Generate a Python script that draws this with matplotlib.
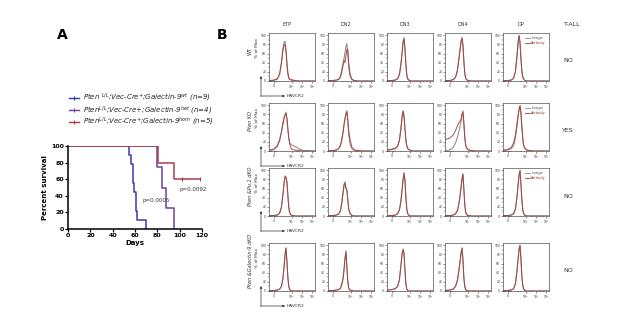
import matplotlib
matplotlib.use("Agg")
import matplotlib.pyplot as plt
from matplotlib.lines import Line2D

# ---- panel A: survival data ----
wt_days = [0, 55, 56, 58, 59, 61, 62, 70]
wt_surv = [100, 88.9, 77.8, 55.6, 44.4, 22.2, 11.1, 0]
het_days = [0, 80, 84, 88, 95]
het_surv = [100, 75, 50, 25, 0]
hom_days = [0, 81, 95, 118]
hom_surv = [100, 80, 60, 60]
hom_censor_days = [102, 118]
hom_censor_surv = [60, 60]

group_labels = [
    r"$Pten$ $^{L/L}$;Vec-Cre$^{+}$;Galectin-9$^{wt}$ (n=9)",
    r"$Pten$$^{L/L}$;Vec-Cre+;Galectin-9$^{het}$ (n=4)",
    r"$Pten$$^{L/L}$;Vec-Cre$^{+}$;Galectin-9$^{hom}$ (n=5)",
]
group_colors = ["#3a3aa6", "#68459c", "#a8404a"]

# ---- panel B: flow histograms (channel vs % of max) ----
populations = ["ETP", "DN2", "DN3", "DN4", "DP"]
genotypes = ["WT", "Pten KO", "Pten &Pu.1 dKO", "Pten &Galectin-9 dKO"]
t_all = ["NO", "YES", "NO", "NO"]
channels = [0, 100, 180, 230, 270, 300, 330, 350, 370, 390, 410, 430, 450, 480, 520, 570, 650, 750, 1000]
tick_pos = [100, 490, 720, 940]
tick_lab = ["0", r"$10^3$", r"$10^4$", r"$10^5$"]

wt_iso = [
    [1, 1, 4, 14, 40, 70, 85, 87, 65, 35, 15, 6, 3, 2, 1, 0, 0, 0, 0],
    [1, 1, 2, 4, 10, 25, 40, 50, 62, 75, 82, 60, 30, 10, 3, 1, 0, 0, 0],
    [1, 1, 2, 5, 15, 35, 65, 88, 95, 70, 35, 12, 4, 1, 0, 0, 0, 0, 0],
    [1, 1, 3, 8, 22, 45, 70, 85, 93, 80, 45, 18, 6, 2, 1, 0, 0, 0, 0],
    [1, 1, 2, 6, 20, 50, 85, 100, 85, 50, 22, 9, 4, 1, 0, 0, 0, 0, 0],
]
wt_ab = [
    [1, 2, 5, 15, 38, 65, 80, 78, 68, 40, 18, 8, 4, 3, 2, 1, 0, 0, 0],
    [1, 1, 2, 3, 8, 20, 35, 45, 40, 55, 68, 70, 40, 15, 4, 1, 0, 0, 0],
    [1, 1, 2, 5, 14, 33, 62, 85, 92, 72, 38, 14, 5, 2, 0, 0, 0, 0, 0],
    [1, 1, 3, 9, 24, 48, 72, 88, 95, 78, 42, 16, 5, 2, 1, 0, 0, 0, 0],
    [1, 1, 2, 6, 21, 51, 86, 99, 84, 49, 21, 9, 4, 1, 0, 0, 0, 0, 0],
]
ko_iso = [
    [2, 4, 12, 25, 42, 60, 75, 80, 85, 70, 45, 28, 18, 14, 12, 10, 5, 1, 0],
    [1, 1, 2, 5, 12, 25, 45, 60, 72, 82, 88, 65, 35, 15, 5, 2, 1, 0, 0],
    [1, 3, 5, 10, 22, 45, 75, 88, 78, 50, 25, 12, 6, 3, 1, 0, 0, 0, 0],
    [0, 2, 8, 18, 30, 42, 55, 65, 78, 88, 62, 30, 12, 5, 2, 1, 0, 0, 0],
    [1, 2, 5, 12, 28, 50, 75, 90, 100, 85, 55, 28, 12, 5, 2, 1, 0, 0, 0],
]
ko_ab = [
    [1, 3, 10, 22, 40, 58, 72, 78, 82, 72, 50, 30, 15, 6, 3, 2, 1, 0, 0],
    [1, 1, 2, 5, 12, 24, 42, 58, 70, 80, 86, 70, 45, 25, 8, 2, 1, 0, 0],
    [2, 4, 6, 11, 24, 48, 77, 87, 76, 48, 24, 11, 5, 3, 1, 0, 0, 0, 0],
    [25, 28, 35, 45, 55, 62, 65, 70, 80, 85, 60, 30, 12, 5, 2, 1, 0, 0, 0],
    [2, 3, 8, 18, 35, 58, 80, 93, 98, 82, 52, 26, 11, 5, 2, 1, 0, 0, 0],
]
pu_iso = [
    [1, 1, 2, 6, 20, 45, 75, 88, 85, 75, 45, 18, 6, 2, 1, 0, 0, 0, 0],
    [1, 1, 2, 4, 12, 30, 55, 70, 75, 62, 58, 35, 15, 5, 1, 0, 0, 0, 0],
    [1, 1, 2, 5, 14, 32, 60, 82, 95, 78, 40, 15, 5, 1, 0, 0, 0, 0, 0],
    [1, 1, 2, 5, 12, 25, 45, 62, 80, 93, 60, 25, 8, 2, 1, 0, 0, 0, 0],
    [1, 1, 2, 5, 15, 38, 70, 90, 100, 70, 35, 14, 5, 1, 0, 0, 0, 0, 0],
]
pu_ab = [
    [1, 1, 2, 6, 19, 44, 73, 86, 84, 74, 46, 19, 7, 2, 1, 0, 0, 0, 0],
    [1, 1, 2, 4, 11, 28, 52, 68, 72, 60, 57, 36, 16, 5, 1, 0, 0, 0, 0],
    [1, 1, 2, 5, 13, 30, 58, 80, 93, 80, 42, 16, 5, 1, 0, 0, 0, 0, 0],
    [1, 1, 2, 5, 12, 26, 46, 64, 82, 91, 58, 24, 8, 2, 1, 0, 0, 0, 0],
    [1, 1, 2, 5, 15, 38, 70, 90, 99, 70, 35, 14, 5, 1, 0, 0, 0, 0, 0],
]
gal_iso = [
    [1, 1, 2, 4, 10, 25, 55, 80, 95, 65, 30, 10, 3, 1, 0, 0, 0, 0, 0],
    [1, 1, 2, 3, 6, 15, 30, 50, 70, 88, 55, 20, 6, 2, 1, 0, 0, 0, 0],
    [2, 3, 5, 10, 25, 55, 85, 92, 80, 45, 15, 4, 1, 0, 0, 0, 0, 0, 0],
    [1, 2, 4, 10, 22, 42, 65, 82, 95, 70, 30, 10, 3, 1, 0, 0, 0, 0, 0],
    [1, 1, 2, 5, 16, 40, 72, 92, 100, 70, 32, 12, 4, 1, 0, 0, 0, 0, 0],
]
gal_ab = [
    [1, 1, 2, 4, 10, 26, 56, 82, 93, 64, 29, 10, 3, 1, 0, 0, 0, 0, 0],
    [1, 1, 2, 3, 6, 14, 28, 48, 72, 85, 52, 22, 7, 2, 1, 0, 0, 0, 0],
    [2, 3, 5, 10, 24, 52, 82, 90, 85, 48, 16, 4, 1, 0, 0, 0, 0, 0, 0],
    [1, 2, 4, 11, 24, 45, 68, 85, 93, 68, 28, 9, 3, 1, 0, 0, 0, 0, 0],
    [1, 1, 2, 5, 16, 40, 72, 92, 100, 70, 32, 12, 4, 1, 0, 0, 0, 0, 0],
]
iso_rows = [wt_iso, ko_iso, pu_iso, gal_iso]
ab_rows = [wt_ab, ko_ab, pu_ab, gal_ab]

ISO_COLOR = "#8a8a8a"
AB_COLOR = "#a33b3b"

W, H = 617, 315
fig = plt.figure(figsize=(W / 100, H / 100), dpi=100)


def box(x, y, w, h):
    return [x / W, 1 - (y + h) / H, w / W, h / H]


# overlay in pixel coordinates for labels and arrows
over = fig.add_axes([0, 0, 1, 1])
over.set_xlim(0, W)
over.set_ylim(H, 0)
over.axis("off")

over.text(62, 35, "A", fontsize=10, fontweight="bold", ha="center", va="center")
over.text(222, 35, "B", fontsize=10, fontweight="bold", ha="center", va="center")

# ---- panel A ----
ax = fig.add_axes(box(68, 146, 134, 83))
ax.step(wt_days, wt_surv, where="post", color=group_colors[0], lw=1.1)
ax.step(het_days, het_surv, where="post", color=group_colors[1], lw=1.1)
ax.step(hom_days, hom_surv, where="post", color=group_colors[2], lw=1.1)
ax.plot(hom_censor_days, hom_censor_surv, ls="none", marker="|", ms=3,
        color=group_colors[2], mew=0.8)
ax.set_xlim(0, 120)
ax.set_ylim(0, 100)
ax.set_xticks(range(0, 121, 20))
ax.set_yticks(range(0, 101, 20))
for s in ["top", "right"]:
    ax.spines[s].set_visible(False)
for s in ["left", "bottom"]:
    ax.spines[s].set_linewidth(1.1)
ax.tick_params(labelsize=4.5, width=0.9, length=2, pad=1)
for t in ax.get_xticklabels() + ax.get_yticklabels():
    t.set_fontweight("bold")
ax.set_xlabel("Days", fontsize=5, fontweight="bold", labelpad=1.5)
ax.set_ylabel("Percent survival", fontsize=5, fontweight="bold", labelpad=2)
ax.text(67, 33, "p=0.0005", fontsize=4, color="#333333")
ax.text(100, 46, "p=0.0092", fontsize=4, color="#333333")

handles = [Line2D([], [], color=c, lw=1.0, marker="|", ms=3, mew=0.8)
           for c in group_colors]
leg = fig.legend(handles, group_labels, loc="upper left",
                 bbox_to_anchor=(66 / W, 1 - 88 / H), frameon=False,
                 fontsize=5, handlelength=1.4, handletextpad=0.6,
                 labelspacing=0.02, borderpad=0)
for t in leg.get_texts():
    t.set_fontstyle("italic")
    t.set_color("#222222")

# ---- panel B ----
col_left = [269, 328, 387, 445, 503]
row_top = [33, 103, 168, 243]
pw, ph = 46, 48

for j, name in enumerate(populations):
    over.text(col_left[j] + 18, 24, name, fontsize=3.5, ha="center", va="center",
              color="#333333")
over.text(572, 24, "T-ALL", fontsize=4.5, ha="center", va="center", color="#333333")

for i, geno in enumerate(genotypes):
    top = row_top[i]
    bot = top + ph
    for j in range(len(populations)):
        a = fig.add_axes(box(col_left[j], top, pw, ph))
        a.plot(channels, iso_rows[i][j], color=ISO_COLOR, lw=0.75)
        a.plot(channels, ab_rows[i][j], color=AB_COLOR, lw=0.75, alpha=0.85)
        a.set_xlim(0, 1000)
        a.set_ylim(0, 105)
        a.set_xticks(tick_pos)
        a.set_xticklabels(tick_lab)
        a.set_xticks([30, 50, 70, 130, 150, 170, 300, 400, 600, 650, 800, 860], minor=True)
        a.set_yticks(range(0, 101, 20))
        a.set_yticks(range(10, 100, 20), minor=True)
        a.tick_params(labelsize=2.2, length=1.2, width=0.4, pad=0.8, colors="#333333")
        a.tick_params(which="minor", length=0.8, width=0.3)
        for s in a.spines.values():
            s.set_linewidth(0.5)
            s.set_color("#555555")
        if j == 4 and i < 3:
            lh = [Line2D([], [], color=ISO_COLOR, lw=0.6),
                  Line2D([], [], color=AB_COLOR, lw=0.6)]
            lg = a.legend(lh, ["Isotype", "Antibody"], loc="upper right",
                          frameon=False, fontsize=2.4, handlelength=1.5,
                          handletextpad=0.4, labelspacing=0.3, borderpad=0.4)
            lg.get_texts()[1].set_color(AB_COLOR)
            lg.get_texts()[0].set_color("#555555")

    style = "normal" if geno == "WT" else "italic"
    over.text(250, top + 18, geno, rotation=90, fontsize=3.6, fontstyle=style,
              ha="center", va="center", color="#333333")
    over.text(257.5, top + 15, "% of Max", rotation=90, fontsize=3.2,
              ha="center", va="center", color="#333333")
    over.annotate("", xy=(261, bot - 5), xytext=(261, bot + 15.5),
                  arrowprops=dict(arrowstyle="-|>", lw=0.5, color="#333333",
                                  mutation_scale=3, shrinkA=0, shrinkB=0))
    over.annotate("", xy=(285, bot + 15), xytext=(260.75, bot + 15),
                  arrowprops=dict(arrowstyle="-|>", lw=0.5, color="#333333",
                                  mutation_scale=3, shrinkA=0, shrinkB=0))
    over.text(287, bot + 15, "HAVCR2", fontsize=3.2, ha="left", va="center",
              color="#333333")
    over.text(568, top + 28, t_all[i], fontsize=4.5, ha="center", va="center",
              color="#333333")

fig.savefig("out.png", dpi=100)
